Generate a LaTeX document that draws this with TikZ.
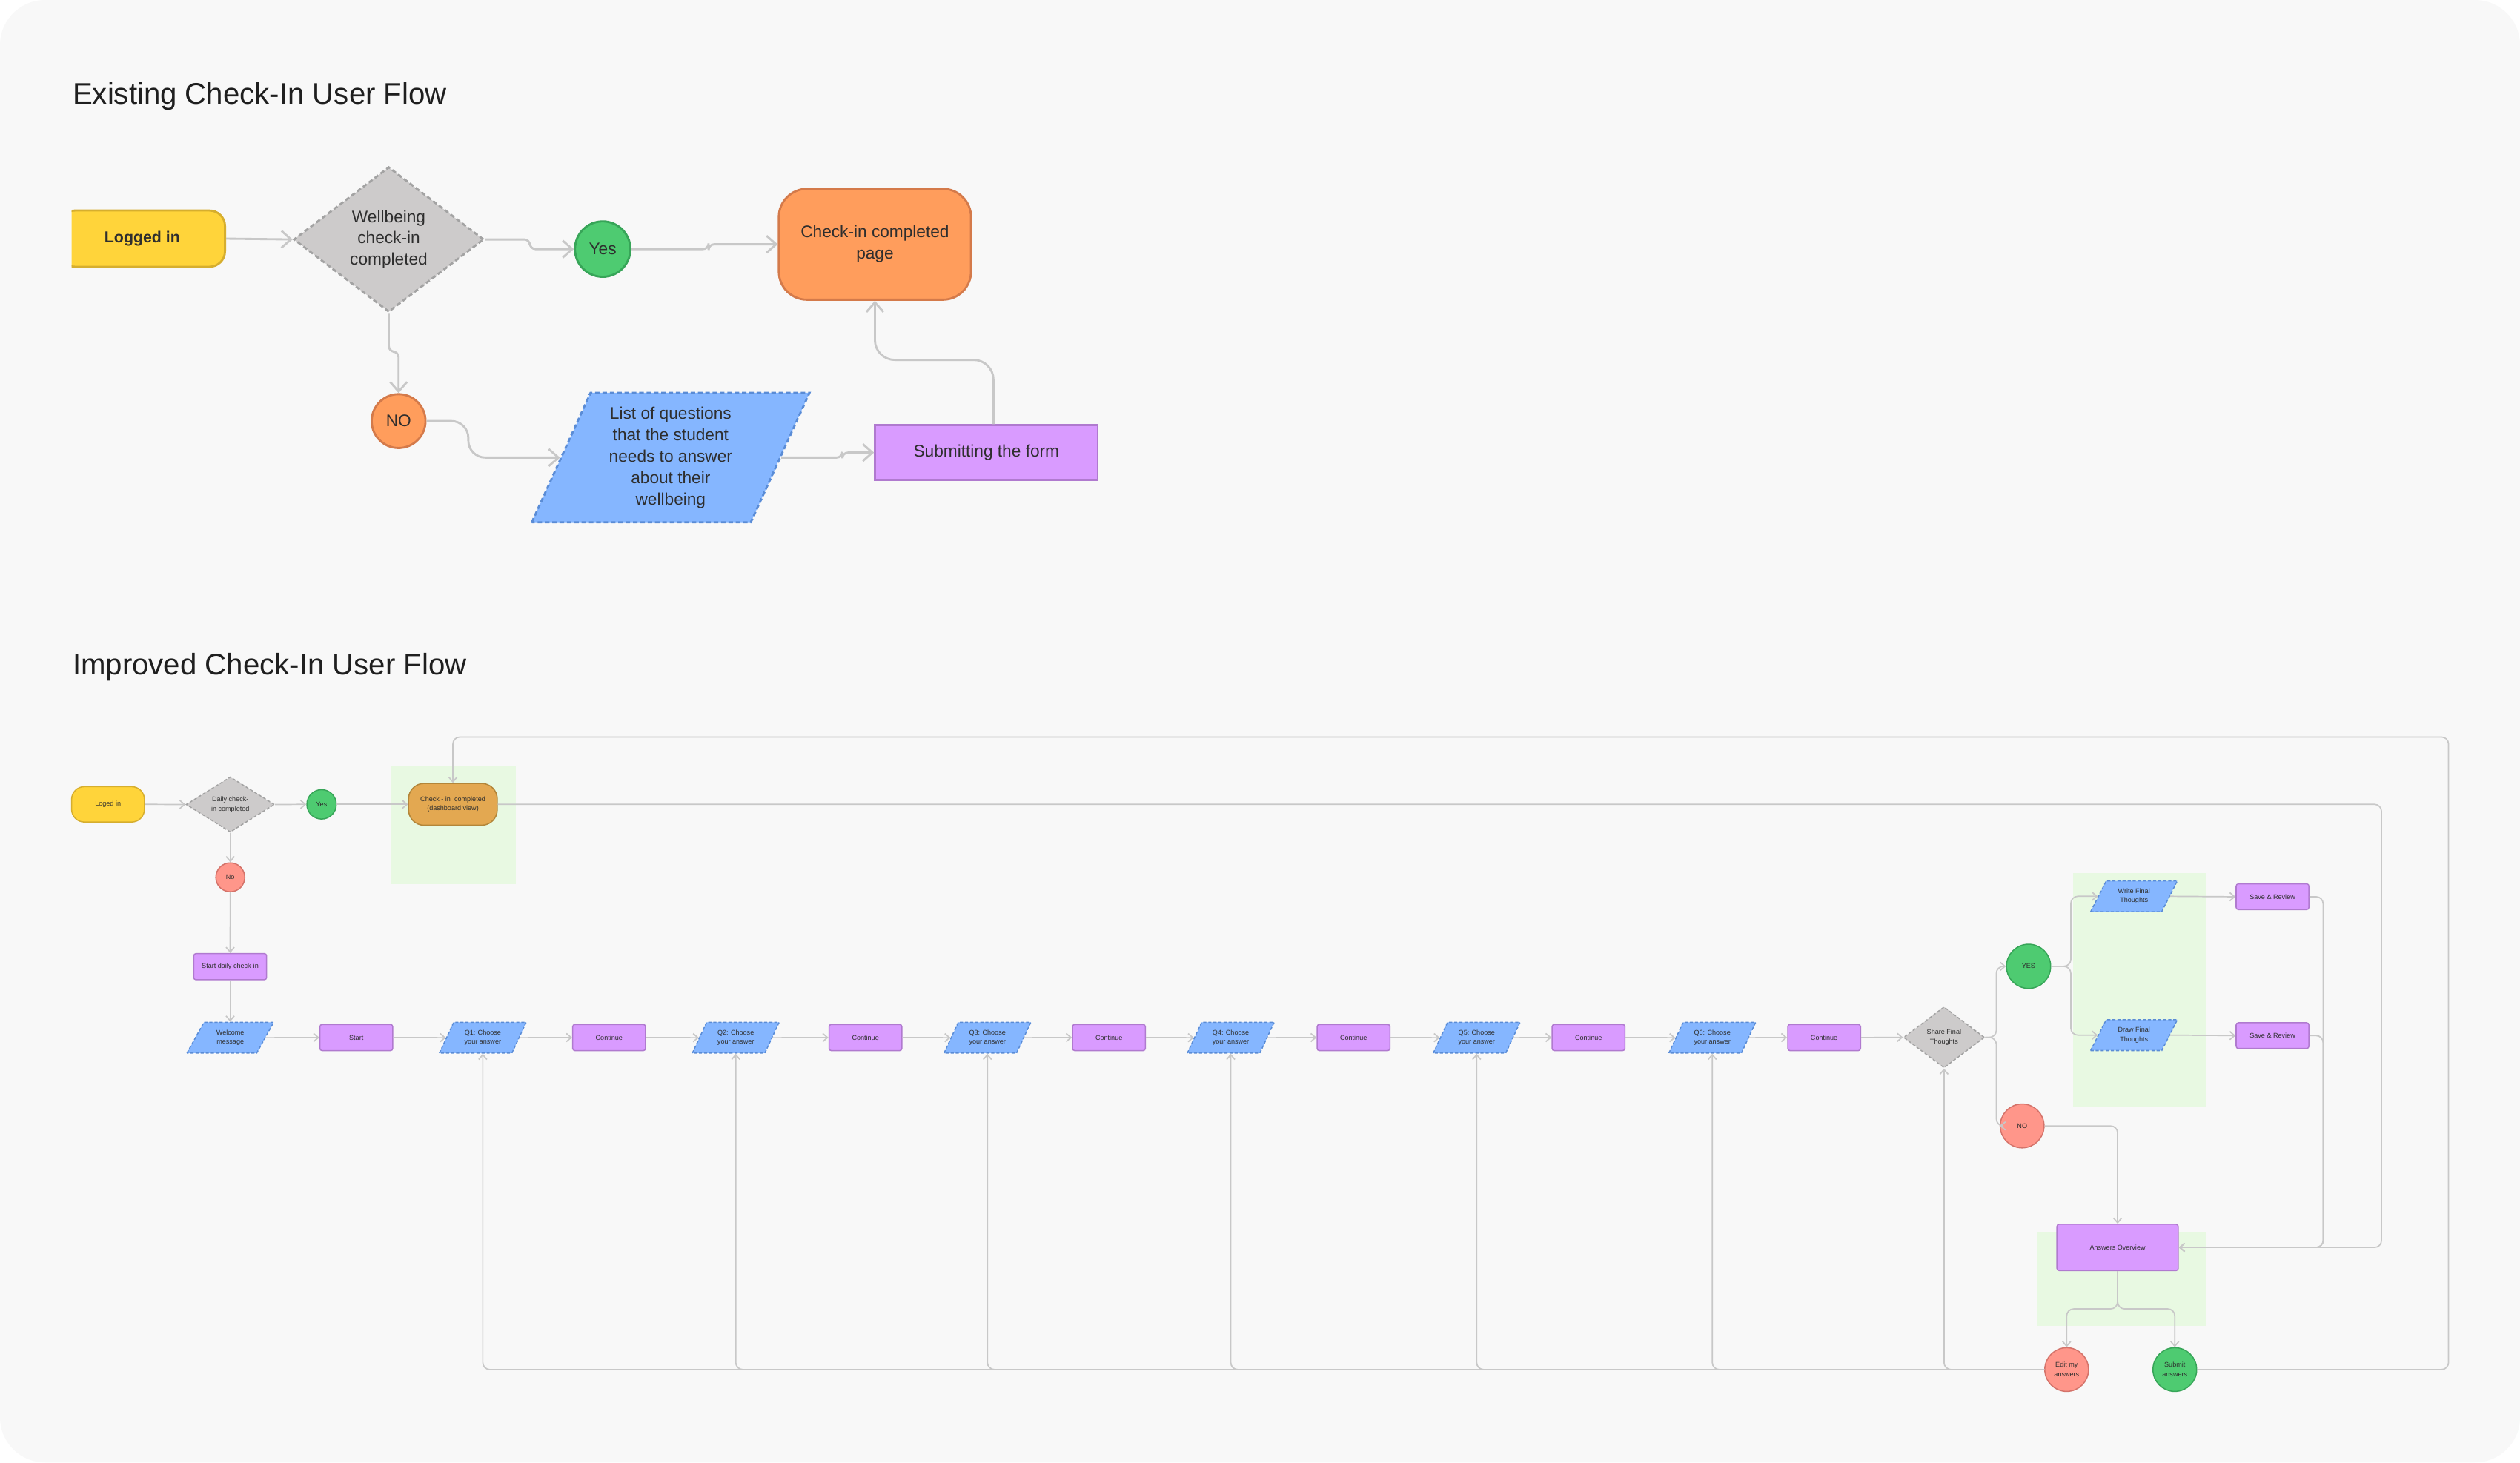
\documentclass[tikz,border=0pt]{standalone}
\usepackage{fontspec}
\setmainfont{Liberation Sans}
\usetikzlibrary{shapes.geometric,arrows.meta}
\newlength\uu \setlength\uu{0.02cm}
\definecolor{canvasbg}{HTML}{F8F8F8}
\definecolor{lineg}{HTML}{C8C8C8}
\definecolor{yelf}{HTML}{FFD43A}
\definecolor{yeld}{HTML}{D6AE2E}
\definecolor{grayf}{HTML}{CDCBCB}
\definecolor{grayd}{HTML}{A3A3A3}
\definecolor{greenf}{HTML}{4ECB71}
\definecolor{greend}{HTML}{37A558}
\definecolor{orf}{HTML}{FF9D5C}
\definecolor{ord}{HTML}{D47A4A}
\definecolor{bluef}{HTML}{85B6FF}
\definecolor{blued}{HTML}{5A8CD6}
\definecolor{purf}{HTML}{D99BFF}
\definecolor{purd}{HTML}{B07ACF}
\definecolor{salf}{HTML}{FF968A}
\definecolor{sald}{HTML}{D4736A}
\definecolor{dashf}{HTML}{E3A851}
\definecolor{dashd}{HTML}{B38639}
\definecolor{lgreen}{HTML}{E8F9E2}
\definecolor{txt}{HTML}{2E2E2E}
\begin{document}
\begin{tikzpicture}[x=0.02cm, y=-0.02cm,
  tnode/.style={font=\fontsize{5.95}{7.6}\selectfont, align=center, inner sep=0pt, line width=0.75pt, text=txt},
  bnode/.style={font=\fontsize{2.38}{3.3}\selectfont, align=center, inner sep=0pt, line width=0.4pt, text=txt},
  tdash/.style={dash pattern=on 1.6pt off 1pt},
  bdash/.style={dash pattern=on 1.1pt off 0.7pt},
  bpara/.style={bnode, trapezium, trapezium left angle=60, trapezium right angle=120, trapezium stretches=true, minimum width=54\uu, minimum height=19.2\uu, draw=blued, fill=bluef, bdash},
  brect/.style={bnode, rectangle, rounded corners=0.8pt, minimum width=45.3\uu, minimum height=16.3\uu, draw=purd, fill=purf},
  bgreen/.style={bnode, circle, minimum size=27.3\uu, draw=greend, fill=greenf},
  bsalmon/.style={bnode, circle, minimum size=27.3\uu, draw=sald, fill=salf},
  conn/.style={draw=lineg, line width=0.75pt, -{Straight Barb[length=3.4pt,width=6pt]}, rounded corners=4pt},
  bconn/.style={draw=lineg, line width=0.45pt, -{Straight Barb[length=1.7pt,width=2.9pt]}, rounded corners=2.5pt},
  bline/.style={draw=lineg, line width=0.45pt, rounded corners=2.5pt},
  titlestyle/.style={anchor=base west, font=\fontsize{10.55}{12}\selectfont, text=black!88, inner sep=0pt}
]
\useasboundingbox (0,0) rectangle (1568,910);
\fill[white] (0,0) rectangle (1568,910);
\fill[canvasbg, rounded corners=16pt] (0,0) rectangle (1568,910);

% titles
\node[titlestyle] (t1) at (44.9,64.9) {Existing Check-In User Flow};
\node[titlestyle] (t2) at (44.9,419.7) {Improved Check-In User Flow};

% ===== Existing flow =====
\begin{scope}
\clip (44.6,100) rectangle (200,200);
\node[tnode, font=\fontsize{5.6}{7}\selectfont\bfseries, rectangle, rounded corners=5.5pt, draw=yeld, fill=yelf, minimum width=103\uu, minimum height=35\uu] (login) at (88.5,148.5) {Logged in};
\end{scope}
\node[tnode, diamond, shape aspect=1.3, draw=grayd, fill=grayf, tdash, minimum width=118.3\uu, minimum height=90.3\uu] (wdiam) at (241.9,149) {Wellbeing\\check-in\\completed};
\node[tnode, circle, draw=greend, fill=greenf, minimum size=34.5\uu] (yes1) at (375,155) {Yes};
\node[tnode, rectangle, rounded corners=10pt, draw=ord, fill=orf, minimum width=119.6\uu, minimum height=69\uu] (checkin) at (544.4,152) {Check-in completed\\page};
\node[tnode, circle, draw=ord, fill=orf, minimum size=33.5\uu] (no1) at (248,262) {NO};
\node[tnode, trapezium, trapezium left angle=66, trapezium right angle=114, trapezium stretches=true, draw=blued, fill=bluef, tdash, minimum width=173\uu, minimum height=80.6\uu] (plist) at (417.3,284.7) {List of questions\\that the student\\needs to answer\\about their\\wellbeing};
\node[tnode, rectangle, draw=purd, fill=purf, minimum width=138.5\uu, minimum height=34\uu] (submit) at (613.75,281.6) {Submitting the form};

\draw[conn] (login.east) -- (wdiam.west);
\draw[conn, rounded corners=2pt] (wdiam.east) -- ++(28,0) |- (yes1.west);
\draw[conn, rounded corners=2pt] (yes1.east) -- ++(48,0) |- (checkin.west);
\draw[conn, rounded corners=2pt] (wdiam.south) -- ++(0,24) -| (no1.north);
\draw[conn, rounded corners=6pt] (no1.east) -- ++(26,0) |- (plist.left side);
\draw[conn, rounded corners=2pt] (plist.right side) -- ++(38,0) |- (submit.west);
\draw[conn, rounded corners=7pt] ([xshift=2.5pt]submit.north) -- ++(0,-40) -| (checkin.south);

% ===== Improved flow =====
\fill[lgreen] (243.5,476.6) rectangle (321,550.4);
\fill[lgreen] (1289.7,543.2) rectangle (1372.4,688.5);
\fill[lgreen] (1267.4,766.5) rectangle (1372.7,825.2);

\node[bnode, rectangle, rounded corners=4.5pt, draw=yeld, fill=yelf, minimum width=45.3\uu, minimum height=22\uu] (login2) at (67.2,500.5) {Loged in};
\node[bnode, diamond, shape aspect=1.6, draw=grayd, fill=grayf, bdash, minimum width=55\uu, minimum height=34.4\uu] (ddiam) at (143.3,500.6) {Daily check-\\in completed};
\node[bgreen, minimum size=18.3\uu] (yes2) at (200.1,500.5) {Yes};
\node[bnode, rectangle, rounded corners=5.5pt, draw=dashd, fill=dashf, minimum width=55.2\uu, minimum height=26\uu] (dash) at (281.8,500.5) {Check - in~~completed\\(dashboard view)};
\node[bsalmon, minimum size=18\uu] (no2) at (143.3,545.9) {No};
\node[brect] (startdaily) at (143.2,601.5) {Start daily check-in};

\node[bpara] (welcome) at (143.3,645.7) {Welcome\\message};
\node[brect] (start) at (221.7,645.6) {Start};
\node[bpara] (q1) at (300.4,645.7) {Q1: Choose\\your answer};
\node[brect] (c1) at (379,645.6) {Continue};
\node[bpara] (q2) at (457.8,645.7) {Q2: Choose\\your answer};
\node[brect] (c2) at (538.5,645.6) {Continue};
\node[bpara] (q3) at (614.4,645.7) {Q3: Choose\\your answer};
\node[brect] (c3) at (690,645.6) {Continue};
\node[bpara] (q4) at (765.8,645.7) {Q4: Choose\\your answer};
\node[brect] (c4) at (842.2,645.6) {Continue};
\node[bpara] (q5) at (918.8,645.7) {Q5: Choose\\your answer};
\node[brect] (c5) at (988.4,645.6) {Continue};
\node[bpara] (q6) at (1065.4,645.7) {Q6: Choose\\your answer};
\node[brect] (c6) at (1135,645.6) {Continue};
\node[bnode, diamond, shape aspect=1.33, draw=grayd, fill=grayf, bdash, minimum width=50.4\uu, minimum height=38\uu] (share) at (1209.6,645.5) {Share Final\\Thoughts};

\node[bgreen, minimum size=27.5\uu] (yes3) at (1262.2,601.3) {YES};
\node[bsalmon] (no3) at (1258.2,700.6) {NO};
\node[bpara] (write) at (1327.8,557.7) {Write Final\\Thoughts};
\node[bpara] (drawft) at (1327.8,644.1) {Draw Final\\Thoughts};
\node[brect, minimum height=16\uu] (save1) at (1414,558) {Save \& Review};
\node[brect, minimum height=16\uu] (save2) at (1414,644.4) {Save \& Review};
\node[brect, minimum width=75.5\uu, minimum height=28.8\uu] (ao) at (1317.6,776.2) {Answers Overview};
\node[bsalmon, minimum size=27.2\uu] (edit) at (1285.9,852.2) {Edit my\\answers};
\node[bgreen, minimum size=27.2\uu] (sub) at (1353.2,852.2) {Submit\\answers};

\draw[bconn] (login2.east) -- (ddiam.west);
\draw[bconn] (ddiam.east) -- (yes2.west);
\draw[bconn] (yes2.east) -- (dash.west);
\draw[bconn] (ddiam.south) -- (no2.north);
\draw[bconn] (no2.south) -- (startdaily.north);
\draw[bconn] (startdaily.south) -- (startdaily.south |- welcome.top side);
\draw[bconn] (welcome.right side) -- (start.west);
\draw[bconn] (start.east) -- (q1.left side);
\draw[bconn] (q1.right side) -- (c1.west);
\draw[bconn] (c1.east) -- (q2.left side);
\draw[bconn] (q2.right side) -- (c2.west);
\draw[bconn] (c2.east) -- (q3.left side);
\draw[bconn] (q3.right side) -- (c3.west);
\draw[bconn] (c3.east) -- (q4.left side);
\draw[bconn] (q4.right side) -- (c4.west);
\draw[bconn] (c4.east) -- (q5.left side);
\draw[bconn] (q5.right side) -- (c5.west);
\draw[bconn] (c5.east) -- (q6.left side);
\draw[bconn] (q6.right side) -- (c6.west);
\draw[bconn] (c6.east) -- (share.west);

\draw[bconn] (share.east) -- ++(7,0) |- (yes3.west);
\draw[bconn] (share.east) -- ++(7,0) |- (no3.west);
\draw[bconn] (yes3.east) -- ++(12.2,0) |- (write.left side);
\draw[bconn] (yes3.east) -- ++(12.2,0) |- (drawft.left side);
\draw[bconn] (write.right side) -- (save1.west);
\draw[bconn] (drawft.right side) -- (save2.west);
\draw[bconn] (save1.east) -- ++(8.5,0) |- (ao.east);
\draw[bconn] (save2.east) -- ++(8.5,0) |- (ao.east);
\coordinate (r1) at (1481.8,500.5);
\draw[bconn] (dash.east) -- (r1) |- (ao.east);
\draw[bconn] (no3.east) -| (ao.north);
\draw[bconn] (ao.south) -- ++(0,23.5) -| (edit.north);
\draw[bconn] (ao.south) -- ++(0,23.5) -| (sub.north);
\coordinate (r2) at (1523.5,458.6);
\draw[bconn] (sub.east) -| (r2) -| (dash.north);

\foreach \q in {q1,q2,q3,q4,q5,q6}{
  \coordinate (\q b) at (\q.center |- \q.bottom side);
  \draw[bconn] (edit.west) -| (\q b);
}
\draw[bconn] (edit.west) -| (share.south);
\end{tikzpicture}
\end{document}
